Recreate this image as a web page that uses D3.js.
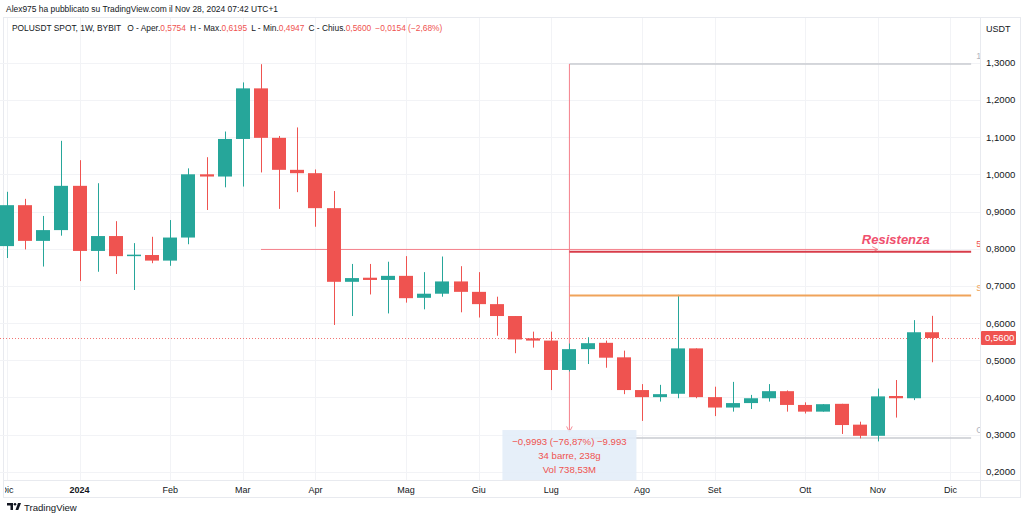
<!DOCTYPE html>
<html><head><meta charset="utf-8">
<script src="https://cdn.jsdelivr.net/npm/d3@7"></script>
<style>
html,body{margin:0;padding:0;background:#fff;}
svg{display:block;font-family:"Liberation Sans",Arial,sans-serif;}
</style></head>
<body>
<svg id="c" width="1024" height="521"></svg>
<script>
// ---------- data ----------
const weeks = ["2023-12-04","2023-12-11","2023-12-18","2023-12-25","2024-01-01","2024-01-08","2024-01-15","2024-01-22","2024-01-29","2024-02-05","2024-02-12","2024-02-19","2024-02-26","2024-03-04","2024-03-11","2024-03-18","2024-03-25","2024-04-01","2024-04-08","2024-04-15","2024-04-22","2024-04-29","2024-05-06","2024-05-13","2024-05-20","2024-05-27","2024-06-03","2024-06-10","2024-06-17","2024-06-24","2024-07-01","2024-07-08","2024-07-15","2024-07-22","2024-07-29","2024-08-05","2024-08-12","2024-08-19","2024-08-26","2024-09-02","2024-09-09","2024-09-16","2024-09-23","2024-09-30","2024-10-07","2024-10-14","2024-10-21","2024-10-28","2024-11-04","2024-11-11","2024-11-18","2024-11-25"];
const opens  = [0.807,0.917,0.821,0.850,0.969,0.794,0.834,0.780,0.783,0.768,0.830,1.000,0.994,1.095,1.231,1.098,1.012,1.003,0.909,0.711,0.722,0.716,0.727,0.668,0.679,0.712,0.684,0.651,0.619,0.559,0.553,0.474,0.530,0.547,0.508,0.420,0.401,0.410,0.532,0.401,0.373,0.385,0.398,0.417,0.380,0.362,0.383,0.327,0.297,0.404,0.398,0.5754];
const highs  = [0.953,0.934,0.888,1.090,1.038,0.976,0.874,0.815,0.832,0.877,1.016,1.046,1.115,1.247,1.296,1.103,1.126,1.013,0.955,0.759,0.759,0.765,0.780,0.737,0.779,0.753,0.737,0.671,0.619,0.577,0.577,0.545,0.562,0.553,0.526,0.436,0.434,0.676,0.532,0.429,0.442,0.407,0.436,0.419,0.387,0.382,0.383,0.335,0.424,0.447,0.608,0.6195];
const lows   = [0.775,0.798,0.752,0.835,0.713,0.738,0.732,0.689,0.761,0.754,0.812,0.904,0.965,0.967,1.005,0.907,0.952,0.859,0.595,0.619,0.677,0.626,0.655,0.637,0.671,0.629,0.615,0.566,0.519,0.534,0.420,0.470,0.490,0.480,0.409,0.337,0.389,0.398,0.398,0.350,0.362,0.369,0.389,0.362,0.357,0.362,0.302,0.290,0.282,0.346,0.393,0.4947];
const closes = [0.917,0.821,0.850,0.969,0.794,0.834,0.780,0.784,0.768,0.830,1.000,0.994,1.095,1.231,1.098,1.012,1.003,0.909,0.711,0.721,0.716,0.727,0.667,0.679,0.712,0.684,0.651,0.619,0.556,0.553,0.474,0.530,0.546,0.507,0.420,0.401,0.409,0.532,0.401,0.373,0.385,0.398,0.417,0.380,0.362,0.382,0.326,0.297,0.403,0.398,0.5754,0.5600];

const monthTickDates  = ["2023-12-04","2024-01-01","2024-02-05","2024-03-04","2024-04-01","2024-05-06","2024-06-03","2024-07-01","2024-08-05","2024-09-02","2024-10-07","2024-11-04","2024-12-02"];
const monthTickLabels = ["Dic","2024","Feb","Mar","Apr","Mag","Giu","Lug","Ago","Set","Ott","Nov","Dic"];
const priceTicks = [0.2,0.3,0.4,0.5,0.6,0.7,0.8,0.9,1.0,1.1,1.2,1.3];
const lastPrice = 0.56;

// drawings (date/price anchors)
const resistLine   = {from:"2024-07-08", to:"2024-12-10", price:0.792, label:"5"};
const supportLine  = {from:"2024-07-08", to:"2024-12-10", price:0.674, label:"S"};
const arrowLine    = {from:"2024-03-11", to:"2024-11-04", price:0.798};
const measureTop   = {from:"2024-07-08", to:"2024-12-10", price:1.2965, label:"1"};
const measureBot   = {from:"2024-07-08", to:"2024-12-10", price:0.291, label:"C"};
const measureLines = ["−0,9993 (−76,87%) −9.993","34 barre, 238g","Vol 738,53M"];

// ---------- layout ----------
const W=1024,H=521;
const plotL=0, plotR=980, plotT=18, plotB=480;
const up="#26a69a", dn="#ef5350";
const parse = d3.utcParse("%Y-%m-%d");

const x = d3.scaleUtc().domain([parse("2023-12-04"), parse("2024-12-02")]).range([7, 950.4]);
const y = d3.scaleLinear().domain([0.2,1.3]).range([471.9,62.7]);
const step = x(parse("2023-12-11"))-x(parse("2023-12-04"));
const bw = Math.round(step*0.78);

const svg = d3.select("#c");
const defs = svg.append("defs");
defs.append("clipPath").attr("id","plot").append("rect")
  .attr("x",plotL).attr("y",plotT).attr("width",plotR-plotL).attr("height",plotB-plotT);
defs.append("clipPath").attr("id","xax").append("rect")
  .attr("x",5).attr("y",plotB).attr("width",plotR-5).attr("height",17);
defs.append("marker").attr("id","arrP").attr("viewBox","0 0 10 10").attr("refX",9).attr("refY",5)
  .attr("markerWidth",7).attr("markerHeight",7).attr("orient","auto")
  .append("path").attr("d","M1,1 L9,5 L1,9").attr("fill","none").attr("stroke","#f4808b").attr("stroke-width",1.3);

// header
svg.append("text").attr("x",6).attr("y",12).attr("font-size",9.6).attr("fill","#131722")
  .attr("textLength",272).attr("lengthAdjust","spacingAndGlyphs")
  .text("Alex975 ha pubblicato su TradingView.com il Nov 28, 2024 07:42 UTC+1");
// frame
svg.append("rect").attr("x",3.5).attr("y",17.5).attr("width",1017).attr("height",480)
  .attr("fill","none").attr("stroke","#e8eaef");
svg.append("line").attr("x1",plotR+0.5).attr("x2",plotR+0.5).attr("y1",18).attr("y2",497).attr("stroke","#e8eaef");
svg.append("line").attr("x1",3).attr("x2",1020).attr("y1",plotB+0.5).attr("y2",plotB+0.5).attr("stroke","#e8eaef");

const g = svg.append("g").attr("clip-path","url(#plot)");

// grid
g.selectAll("line.hg").data(priceTicks).join("line").attr("class","hg")
  .attr("x1",plotL).attr("x2",plotR).attr("y1",d=>Math.round(y(d))+0.5).attr("y2",d=>Math.round(y(d))+0.5)
  .attr("stroke","#f2f3f6");
g.selectAll("line.vg").data(monthTickDates).join("line").attr("class","vg")
  .attr("x1",d=>Math.round(x(parse(d)))+0.5).attr("x2",d=>Math.round(x(parse(d)))+0.5)
  .attr("y1",plotT).attr("y2",plotB).attr("stroke","#f2f3f6");

// current price dotted line
g.append("line").attr("x1",plotL).attr("x2",plotR).attr("y1",Math.round(y(lastPrice))+0.5).attr("y2",Math.round(y(lastPrice))+0.5)
  .attr("stroke",dn).attr("stroke-width",1).attr("stroke-dasharray","1,2").attr("opacity",0.8);

// measurement drawing
const mx = x(parse(measureTop.from));
g.append("line").attr("x1",mx).attr("x2",x(parse(measureTop.to))).attr("y1",y(measureTop.price)).attr("y2",y(measureTop.price))
  .attr("stroke","#c9cbd1").attr("stroke-width",1.5);
g.append("line").attr("x1",mx).attr("x2",x(parse(measureBot.to))).attr("y1",y(measureBot.price)).attr("y2",y(measureBot.price))
  .attr("stroke","#c9cbd1").attr("stroke-width",1.5);
g.append("line").attr("x1",mx).attr("x2",mx).attr("y1",y(measureTop.price)).attr("y2",y(measureBot.price)-6)
  .attr("stroke","#f4808b").attr("stroke-width",1).attr("marker-end","url(#arrP)");

// arrow line
g.append("line").attr("x1",x(parse(arrowLine.from))).attr("x2",x(parse(arrowLine.to)))
  .attr("y1",y(arrowLine.price)).attr("y2",y(arrowLine.price))
  .attr("stroke","#f4808b").attr("stroke-width",1).attr("marker-end","url(#arrP)");

// candles
const data = weeks.map((w,i)=>({d:parse(w),o:opens[i],h:highs[i],l:lows[i],c:closes[i]}));
const cg = g.append("g");
cg.selectAll("line.wick").data(data).join("line").attr("class","wick")
  .attr("x1",d=>Math.round(x(d.d))+0.5).attr("x2",d=>Math.round(x(d.d))+0.5)
  .attr("y1",d=>y(d.h)).attr("y2",d=>y(d.l))
  .attr("stroke",d=>d.c>=d.o?up:dn).attr("stroke-width",1);
cg.selectAll("rect.body").data(data).join("rect").attr("class","body")
  .attr("x",d=>Math.round(x(d.d))-Math.floor(bw/2)).attr("width",bw)
  .attr("y",d=>y(Math.max(d.o,d.c))).attr("height",d=>Math.max(1.5,Math.abs(y(d.o)-y(d.c))))
  .attr("fill",d=>d.c>=d.o?up:dn);

// horizontal levels
g.append("line").attr("x1",x(parse(resistLine.from))).attr("x2",x(parse(resistLine.to)))
  .attr("y1",y(resistLine.price)).attr("y2",y(resistLine.price)).attr("stroke","#d83c4a").attr("stroke-width",2);
g.append("line").attr("x1",x(parse(supportLine.from))).attr("x2",x(parse(supportLine.to)))
  .attr("y1",y(supportLine.price)).attr("y2",y(supportLine.price)).attr("stroke","#f0a35a").attr("stroke-width",2);

// truncated labels at right of lines
const lbl = (o,col)=>g.append("text").attr("x",x(parse(o.to))+5).attr("y",y(o.price)-5)
  .attr("font-size",9).attr("fill",col).text(o.label);
lbl(resistLine,"#ef5350"); lbl(supportLine,"#f0a35a"); lbl(measureTop,"#b2b5be"); lbl(measureBot,"#b2b5be");

// Resistenza text
g.append("text").attr("x",x(parse(arrowLine.to))+18).attr("y",y(arrowLine.price)-5)
  .attr("text-anchor","middle").attr("font-size",13).attr("font-weight","bold").attr("font-style","italic")
  .attr("fill","#f0506e").text("Resistenza");

// measurement info box
const bx = mx, by = y(measureBot.price)-8;
svg.append("rect").attr("x",bx-67).attr("y",by).attr("width",134).attr("height",plotB-by)
  .attr("fill","#e3edf8").attr("opacity",0.9);
svg.selectAll("text.ms").data(measureLines).join("text").attr("class","ms")
  .attr("x",bx).attr("y",(d,i)=>by+15+i*14).attr("text-anchor","middle")
  .attr("font-size",9.6).attr("fill","#ef5350").text(d=>d);

// y axis labels
svg.selectAll("text.yl").data(priceTicks).join("text").attr("class","yl")
  .attr("x",986).attr("y",d=>y(d)+3.5).attr("font-size",9.6).attr("fill","#131722")
  .text(d=>d3.format(".4f")(d).replace(".",","));
svg.append("text").attr("x",986).attr("y",32).attr("font-size",9).attr("fill","#131722").text("USDT");
// last price tag
svg.append("rect").attr("x",981).attr("y",y(lastPrice)-7).attr("width",35).attr("height",14).attr("fill",dn).attr("rx",1);
svg.append("text").attr("x",985).attr("y",y(lastPrice)+3.5).attr("font-size",9.6).attr("fill","#fff")
  .text(d3.format(".4f")(lastPrice).replace(".",","));

// x axis labels
svg.append("g").attr("clip-path","url(#xax)").selectAll("text").data(monthTickDates).join("text")
  .attr("x",d=>x(parse(d))).attr("y",493).attr("text-anchor","middle").attr("font-size",9)
  .attr("font-weight",(d,i)=>monthTickLabels[i]==="2024"?"bold":"normal")
  .attr("fill","#131722").text((d,i)=>monthTickLabels[i]);

// legend line: parts placed one after another
const legParts = [["POLUSDT SPOT, 1W, BYBIT","#131722",6],["O - Aper.","#131722",0],["0,5754","#ef5350",4],["H - Max.","#131722",0],["0,6195","#ef5350",4],["L - Min.","#131722",0],["0,4947","#ef5350",4],["C - Chius.","#131722",0],["0,5600","#ef5350",4],["−0,0154 (−2,68%)","#ef5350",0]];
let lx = 12;
legParts.forEach(p=>{
  const t = svg.append("text").attr("x",lx).attr("y",31).attr("font-size",8.4).attr("fill",p[1]).text(p[0]);
  lx += t.node().getComputedTextLength() + p[2] + (p[2]===0 ? 0 : 0);
});
</script>
<script>
// footer logo
(function(){
const svg = d3.select("#c");
const logo = svg.append("g").attr("transform","translate(7,503)");
logo.append("path").attr("d","M0,0 H6 V7 H3.5 V2.5 H0 Z").attr("fill","#131722");
logo.append("circle").attr("cx",8).attr("cy",1.3).attr("r",1.3).attr("fill","#131722");
logo.append("path").attr("d","M8.5,7 L11,0 H14 L11.3,7 Z").attr("fill","#131722");
svg.append("text").attr("x",24).attr("y",511).attr("font-size",9.6).attr("fill","#131722").text("TradingView");
})();
</script>
</body></html>
